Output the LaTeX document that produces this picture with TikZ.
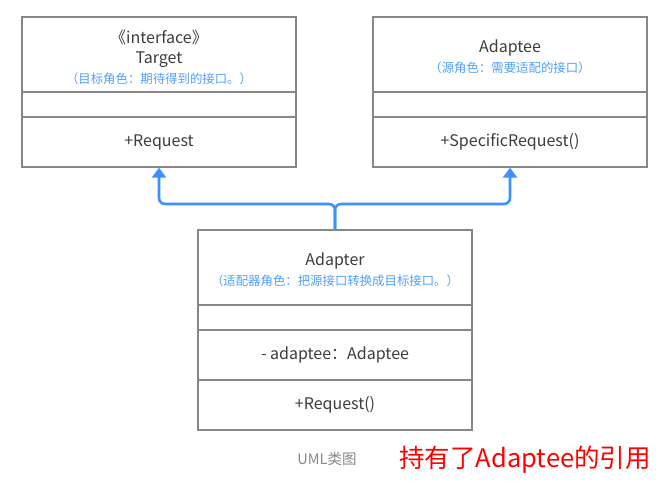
\documentclass[tikz,border=0pt]{standalone}
\usepackage{fontspec}
\setmainfont{Noto Sans CJK SC}
\usetikzlibrary{arrows.meta}
\definecolor{boxgray}{RGB}{135,135,135}
\definecolor{classtext}{RGB}{60,60,60}
\definecolor{noteblue}{RGB}{80,160,255}
\definecolor{linkblue}{RGB}{60,145,255}
\newcommand{\notefont}{\fontsize{12.4}{15}\selectfont\color{noteblue}}
\newcommand{\headstrut}[1]{\rule{0pt}{#1}}

\begin{document}
\begin{tikzpicture}[x=1pt, y=-1pt]
  \tikzstyle{part}=[draw=boxgray, line width=1.4pt, minimum width=274, inner sep=0, text=classtext, font=\fontsize{16}{20}\selectfont, align=center];
  \tikzstyle{head}=[part, minimum height=75];
  \tikzstyle{blank}=[part, minimum height=25];
  \tikzstyle{ops}=[part, minimum height=50];
  \tikzstyle{link}=[draw=linkblue, line width=2.6pt, rounded corners=6, -{Triangle[width=14pt, length=10pt]}];

  \useasboundingbox (0,0) rectangle (672,485);

  % Target
  \node[head] (targethead) at (159, 54.5) {\headstrut{19pt}《interface》\\Target\\{\notefont（目标角色：期待得到的接口。）}};
  \node[blank] (targetblank) at (159, 104.5) {};
  \node[ops] (targetops) at (159, 142) {+Request};

  % Adaptee
  \node[head] (adapteehead) at (510, 54.5) {\headstrut{18pt}Adaptee\\{\notefont（源角色：需要适配的接口）}};
  \node[blank] (adapteeblank) at (510, 104.5) {};
  \node[ops] (adapteeops) at (510, 142) {+SpecificRequest()};

  % Adapter
  \node[head] (adapterhead) at (335, 267.5) {\headstrut{18pt}Adapter\\{\notefont（适配器角色：把源接口转换成目标接口。）}};
  \node[blank] (adapterblank) at (335, 317.5) {};
  \node[ops] (adapterattr) at (335, 355) {- adaptee：Adaptee};
  \node[ops] (adapterops) at (335, 405) {+Request()};

  \coordinate (fork) at (335, 204);
  \draw[link] (adapterhead.north) -- (fork) -| (targetops.south);
  \draw[link] (adapterhead.north) -- (fork) -| (adapteeops.south);

  \node[text=boxgray, font=\fontsize{14.5}{16}\selectfont] (caption) at (327, 459) {UML类图};
  \node[text=red, font=\fontsize{25.5}{30}\selectfont] (remark) at (525, 460) {持有了Adaptee的引用};
\end{tikzpicture}
\end{document}
